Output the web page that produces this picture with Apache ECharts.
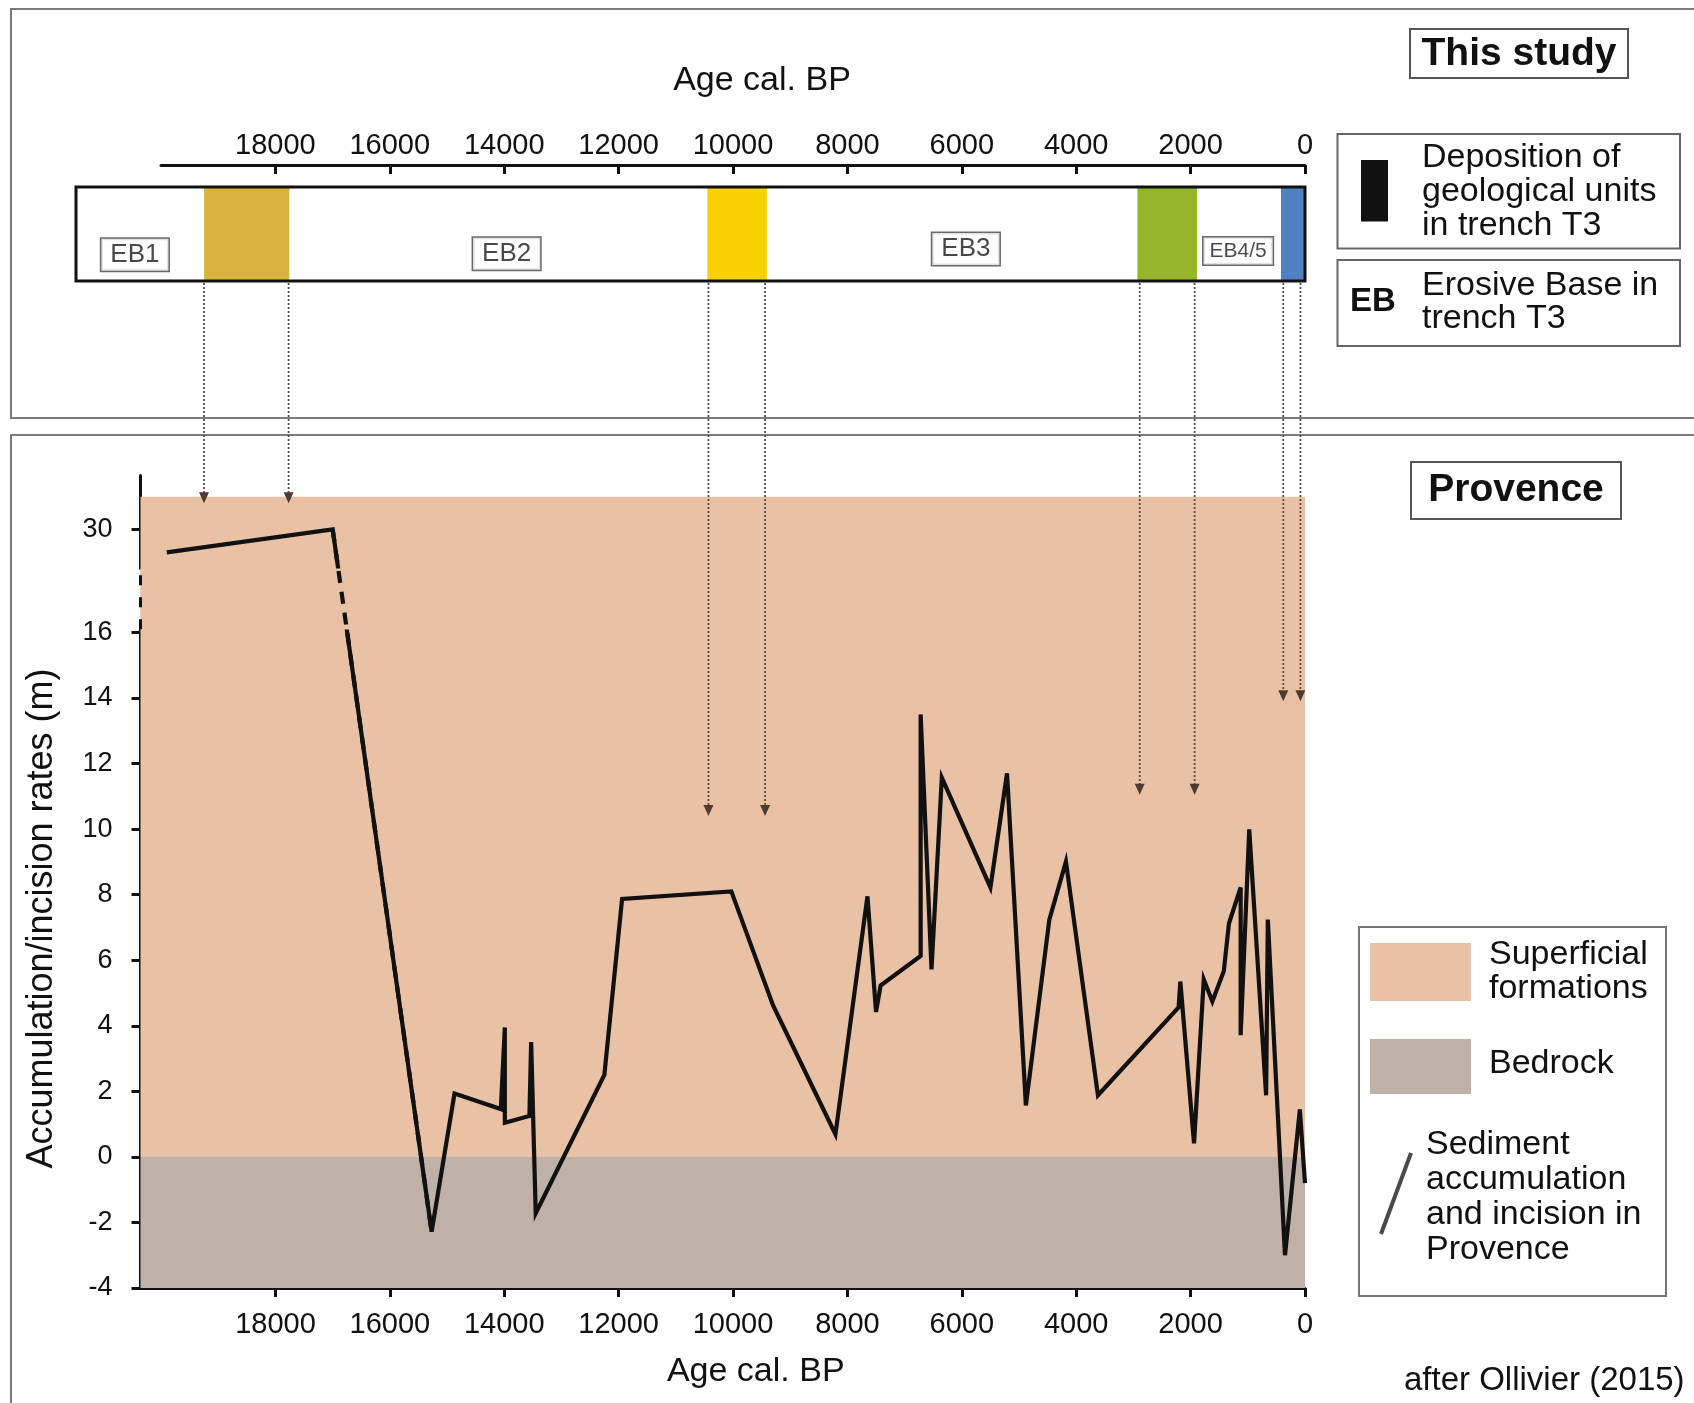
<!DOCTYPE html>
<html><head><meta charset="utf-8">
<script src="https://cdn.jsdelivr.net/npm/echarts@6/dist/echarts.min.js"></script>
<style>html,body{margin:0;padding:0;background:#fff}#c{width:1694px;height:1403px}</style>
</head><body><div id="c"></div>
<script>
// ---------- data ----------
const ageTicks = [18000, 16000, 14000, 12000, 10000, 8000, 6000, 4000, 2000, 0];
const rateTicks = [-4, -2, 0, 2, 4, 6, 8, 10, 12, 14, 16, 30];
const ages = [19900, 17000, 15270, 14870, 14060, 13990, 13990, 13560, 13530, 13450, 12250, 11940, 10030, 9300, 8210, 7650, 7500, 7420, 6720, 6720, 6530, 6350, 5500, 5210, 4880, 4470, 4180, 3620, 2210, 2180, 1940, 1770, 1620, 1420, 1330, 1125, 1125, 975, 680, 650, 350, 90, 0];
const rates = [29.3, 30.0, -2.28, 1.93, 1.46, 3.95, 1.04, 1.25, 3.5, -1.72, 2.5, 7.87, 8.1, 4.62, 0.69, 7.95, 4.42, 5.23, 6.13, 13.5, 5.72, 11.57, 8.22, 11.7, 1.57, 7.24, 9.01, 1.88, 4.56, 5.35, 0.41, 5.41, 4.74, 5.66, 7.12, 8.22, 3.71, 9.99, 1.88, 7.24, -3.0, 1.45, -0.8];
const breakFrom = 16.1, breakTo = 28.8;
const superficialTop = 31, bedrockTop = 0, rateMin = -4, rateMax = 31.66;
const ageMaxTop = 20000, ageMaxBox = 21490, ageMaxPlot = 20360;
const unitNames = ['EB1', 'EB2', 'EB3', 'EB4/5'];
const unitAges = [20460, 13960, 5930, 1170];
const unitLevels = [0.28, 0.29, 0.34, 0.32];
const depStart = [19250, 10450, 2930, 420];
const depEnd = [17760, 9410, 1890, 0];
const arrowAges = [19250, 17770, 10430, 9440, 2890, 1930, 380, 80];
const arrowTips = [30.8, 30.8, 10.4, 10.4, 11.05, 11.05, 13.9, 13.9];

// ---------- styles ----------
const FONT = '"Liberation Sans", Arial, Helvetica, sans-serif';
const INK = '#111111';
const PEACH = '#e9c1a4', ROCK = '#bfb1a8';
const DEP_COLORS = ['#d7b43e', '#f9d000', '#92b52c', '#4f80c2'];

const chart = echarts.init(document.getElementById('c'), null, {renderer: 'canvas', width: 1694, height: 1403});

const axisLineStyle = {color: INK, width: 3};
const plain = v => String(v);
const option = {
  animation: false,
  backgroundColor: '#ffffff',
  textStyle: {fontFamily: FONT, color: INK},
  grid: [
    {left: 161, right: 389, top: 165, height: 22},
    {left: 76, right: 389, top: 187, height: 94},
    {left: 140.5, right: 389, top: 475, bottom: 115}
  ],
  xAxis: [
    {gridIndex: 0, type: 'value', min: 0, max: ageMaxTop, inverse: true, position: 'top',
     axisLine: {show: true, onZero: false, lineStyle: axisLineStyle},
     axisTick: {show: true, inside: true, length: 9, lineStyle: axisLineStyle, customValues: ageTicks},
     axisLabel: {show: true, margin: 5, fontSize: 29, color: INK, fontFamily: FONT, customValues: ageTicks, formatter: plain},
     splitLine: {show: false},
     name: 'Age cal. BP', nameLocation: 'middle', nameGap: 67,
     nameTextStyle: {fontSize: 34, fontFamily: FONT, color: INK, padding: [0, 0, 0, 58]}},
    {gridIndex: 1, type: 'value', min: 0, max: ageMaxBox, inverse: true, show: false},
    {gridIndex: 2, type: 'value', min: 0, max: ageMaxPlot, inverse: true, position: 'bottom',
     axisLine: {show: true, onZero: false, lineStyle: axisLineStyle},
     axisTick: {show: true, inside: false, length: 9, lineStyle: axisLineStyle, customValues: ageTicks},
     axisLabel: {show: true, margin: 22, fontSize: 29, color: INK, fontFamily: FONT, customValues: ageTicks, formatter: plain},
     splitLine: {show: false},
     name: 'Age cal. BP', nameLocation: 'middle', nameGap: 67,
     nameTextStyle: {fontSize: 34, fontFamily: FONT, color: INK, padding: [0, 0, 0, 66]}}
  ],
  yAxis: [
    {gridIndex: 0, type: 'value', min: 0, max: 1, show: false},
    {gridIndex: 1, type: 'value', min: 0, max: 1, show: false},
    {gridIndex: 2, type: 'value', min: rateMin, max: rateMax, position: 'left',
     breaks: [{start: breakFrom, end: breakTo, gap: '7.43%'}],
     breakArea: {show: true, zigzagAmplitude: 0, zigzagZ: 10, expandOnClick: false,
                 itemStyle: {color: PEACH, borderColor: PEACH, borderWidth: 0, opacity: 1}},
     axisLine: {show: true, onZero: false, lineStyle: axisLineStyle},
     axisTick: {show: true, length: 9, lineStyle: axisLineStyle, customValues: rateTicks},
     axisLabel: {show: true, margin: 28, fontSize: 27, color: INK, fontFamily: FONT, customValues: rateTicks, formatter: plain},
     splitLine: {show: false},
     name: 'Accumulation/incision rates (m)', nameLocation: 'middle', nameGap: 80,
     nameTextStyle: {fontSize: 36, fontFamily: FONT, color: INK, padding: [0, 74, 0, 0]}}
  ],
  series: [
    {name: 'background', type: 'line', xAxisIndex: 2, yAxisIndex: 2, data: [], silent: true, z: 1,
     markArea: {silent: true, data: [
       [{yAxis: bedrockTop, itemStyle: {color: PEACH}}, {yAxis: superficialTop}],
       [{yAxis: rateMin, itemStyle: {color: ROCK}}, {yAxis: bedrockTop}]
     ]}},
    {name: 'Sediment accumulation and incision in Provence', type: 'line', xAxisIndex: 2, yAxisIndex: 2,
     data: ages.map((a, i) => [a, rates[i]]), symbol: 'none', showSymbol: false, z: 5,
     lineStyle: {color: INK, width: 4.2, join: 'miter', miterLimit: 6}},
    {name: 'break connector', type: 'line', xAxisIndex: 2, yAxisIndex: 2,
     data: [[ages[1], rates[1]], [ages[2], rates[2]]], symbol: 'none', showSymbol: false, z: 60,
     lineStyle: {color: INK, width: 4.2, type: [12, 9]},
     markLine: {silent: true, symbol: 'none', label: {show: false}, z: 60,
       lineStyle: {color: INK, width: 3, type: [10, 12]},
       data: [[{coord: [ageMaxPlot, breakFrom]}, {coord: [ageMaxPlot, breakTo]}]]}},
    {name: 'deposition', type: 'line', xAxisIndex: 1, yAxisIndex: 1, data: [], silent: true, z: 2,
     markArea: {silent: true, data: depStart.map((s, i) => [
       {xAxis: s, itemStyle: {color: DEP_COLORS[i]}}, {xAxis: depEnd[i]}])}},
    {name: 'box', type: 'line', xAxisIndex: 1, yAxisIndex: 1, data: [], silent: true, z: 4,
     markArea: {silent: true, data: [[
       {xAxis: ageMaxBox, yAxis: 0, itemStyle: {color: 'rgba(0,0,0,0)', borderColor: INK, borderWidth: 3}},
       {xAxis: 0, yAxis: 1}]]}},
    {name: 'erosive bases', type: 'scatter', xAxisIndex: 1, yAxisIndex: 1, z: 6,
     symbolSize: 1, itemStyle: {color: 'rgba(0,0,0,0)'},
     data: unitNames.map((n, i) => ({name: n, value: [unitAges[i], unitLevels[i]],
       label: i === 3 ? {fontSize: 21, padding: [4, 6, 2, 6]} : {}})),
     label: {show: true, position: 'inside', formatter: p => p.name, fontSize: 26, color: '#1a1a1a',
             fontFamily: FONT, backgroundColor: '#fff', borderColor: '#444', borderWidth: 1.5,
             padding: [4, 9, 2, 9]}}
  ]
};
chart.setOption(option);

// ---------- decorations + arrows (arrow positions from the axes) ----------
const g = [];
function rect(id, x, y, w, h, stroke, lw, fill) {
  g.push({type: 'rect', id, z: 1, shape: {x, y, width: w, height: h},
          style: {fill: fill || 'none', stroke: stroke || 'none', lineWidth: lw || 0}, silent: true});
}
function text(id, x, y, str, size, opts) {
  g.push(Object.assign({type: 'text', id, z: 20, x, y, silent: true,
    style: Object.assign({text: str, fontSize: size, fontFamily: FONT, fill: INK, align: 'left', verticalAlign: 'top'}, opts && opts.style || {})}, opts && opts.el || {}));
}
rect('frameTop', 11, 9, 1700, 409, '#7b7b7b', 2);
rect('frameBottom', 11, 435, 1700, 1000, '#7b7b7b', 2);
rect('studyBox', 1410, 29, 218, 49, '#555', 2, '#fff');
text('studyTxt', 1519, 54, 'This study', 39, {style: {fontWeight: 'bold', align: 'center', verticalAlign: 'middle'}});
rect('leg1Box', 1337.5, 134, 342.5, 114.5, '#666', 2, '#fff');
rect('leg1Sw', 1361, 160, 27, 61.5, null, 0, INK);
text('leg1Txt', 1422, 141, 'Deposition of\ngeological units\nin trench T3', 34, {style: {lineHeight: 34}});
rect('leg2Box', 1337.5, 260, 342.5, 86, '#666', 2, '#fff');
text('leg2Eb', 1373, 302, 'EB', 33, {style: {fontWeight: 'bold', align: 'center', verticalAlign: 'middle'}});
text('leg2Txt', 1422, 269, 'Erosive Base in\ntrench T3', 34, {style: {lineHeight: 33}});
rect('provBox', 1411, 462, 210, 57, '#555', 2, '#fff');
text('provTxt', 1516, 490, 'Provence', 39, {style: {fontWeight: 'bold', align: 'center', verticalAlign: 'middle'}});
rect('leg3Box', 1359, 927, 307, 369, '#777', 2, '#fff');
rect('leg3Sw1', 1370, 943, 101, 58, null, 0, PEACH);
rect('leg3Sw2', 1370, 1039, 101, 55, null, 0, ROCK);
text('leg3T1', 1489, 938, 'Superficial\nformations', 34, {style: {lineHeight: 34}});
text('leg3T2', 1489, 1064, 'Bedrock', 34, {style: {verticalAlign: 'middle'}});
g.push({type: 'line', id: 'leg3Line', z: 20, silent: true, shape: {x1: 1381, y1: 1234, x2: 1411, y2: 1153},
        style: {stroke: '#4a4a4a', lineWidth: 4}});
text('leg3T3', 1426, 1127, 'Sediment\naccumulation\nand incision in\nProvence', 34, {style: {lineHeight: 35}});
text('credit', 1404, 1381, 'after Ollivier (2015)', 33, {style: {verticalAlign: 'middle'}});

const yStart = chart.convertToPixel({gridIndex: 1}, [0, 0])[1];
arrowAges.forEach((a, i) => {
  const p = chart.convertToPixel({gridIndex: 2}, [a, arrowTips[i]]);
  g.push({type: 'line', id: 'arr' + i, z: 100, silent: true,
          shape: {x1: p[0], y1: yStart + 2, x2: p[0], y2: p[1] - 9},
          style: {stroke: '#5e4a3e', lineWidth: 1.8, lineDash: [2, 2]}});
  g.push({type: 'polygon', id: 'arh' + i, z: 100, silent: true,
          shape: {points: [[p[0] - 5, p[1] - 11], [p[0] + 5, p[1] - 11], [p[0], p[1]]]},
          style: {fill: '#4e3b30'}});
});
chart.setOption({graphic: g});
</script></body></html>
